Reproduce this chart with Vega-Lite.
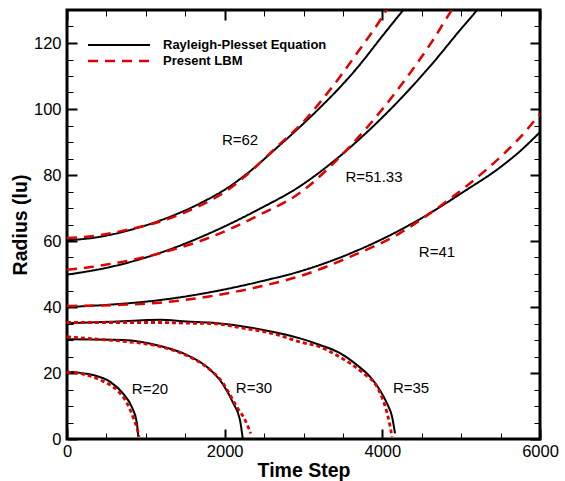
{
  "$schema": "https://vega.github.io/schema/vega-lite/v6.json",
  "width": 473,
  "height": 429,
  "autosize": {"type": "none"},
  "padding": {"left": 67, "top": 10, "right": 25, "bottom": 42},
  "background": "white",
  "config": {
    "font": "Liberation Sans",
    "view": {"stroke": "black", "strokeWidth": 3},
    "axis": {
      "domain": false, "grid": false,
      "labelFont": "Liberation Sans", "labelFontSize": 16.5, "labelColor": "black",
      "tickColor": "black",
      "titleFont": "Liberation Sans", "titleFontSize": 19.5, "titleFontWeight": "bold", "titleColor": "black",
      "labelOverlap": false, "labelFlush": false
    }
  },
  "datasets": {
    "curves": [
      {"c":"g62","m":"Rayleigh-Plesset Equation","p":"grow","t":0,"r":60.2},
      {"c":"g62","m":"Rayleigh-Plesset Equation","p":"grow","t":400,"r":61.2},
      {"c":"g62","m":"Rayleigh-Plesset Equation","p":"grow","t":761,"r":63.1},
      {"c":"g62","m":"Rayleigh-Plesset Equation","p":"grow","t":1180,"r":66.2},
      {"c":"g62","m":"Rayleigh-Plesset Equation","p":"grow","t":1687,"r":71.4},
      {"c":"g62","m":"Rayleigh-Plesset Equation","p":"grow","t":2030,"r":76},
      {"c":"g62","m":"Rayleigh-Plesset Equation","p":"grow","t":2283,"r":80.4},
      {"c":"g62","m":"Rayleigh-Plesset Equation","p":"grow","t":2664,"r":88.3},
      {"c":"g62","m":"Rayleigh-Plesset Equation","p":"grow","t":2956,"r":94.6},
      {"c":"g62","m":"Rayleigh-Plesset Equation","p":"grow","t":3209,"r":100.4},
      {"c":"g62","m":"Rayleigh-Plesset Equation","p":"grow","t":3463,"r":106.6},
      {"c":"g62","m":"Rayleigh-Plesset Equation","p":"grow","t":3717,"r":113.5},
      {"c":"g62","m":"Rayleigh-Plesset Equation","p":"grow","t":3970,"r":121.2},
      {"c":"g62","m":"Rayleigh-Plesset Equation","p":"grow","t":4262,"r":129.9},
      {"c":"g62","m":"Rayleigh-Plesset Equation","p":"grow","t":4320,"r":131.6},
      {"c":"g51","m":"Rayleigh-Plesset Equation","p":"grow","t":0,"r":49.8},
      {"c":"g51","m":"Rayleigh-Plesset Equation","p":"grow","t":545,"r":52.1},
      {"c":"g51","m":"Rayleigh-Plesset Equation","p":"grow","t":1180,"r":56.4},
      {"c":"g51","m":"Rayleigh-Plesset Equation","p":"grow","t":1814,"r":62.4},
      {"c":"g51","m":"Rayleigh-Plesset Equation","p":"grow","t":2448,"r":69.8},
      {"c":"g51","m":"Rayleigh-Plesset Equation","p":"grow","t":2956,"r":76.6},
      {"c":"g51","m":"Rayleigh-Plesset Equation","p":"grow","t":3374,"r":84},
      {"c":"g51","m":"Rayleigh-Plesset Equation","p":"grow","t":3806,"r":93},
      {"c":"g51","m":"Rayleigh-Plesset Equation","p":"grow","t":4224,"r":102.9},
      {"c":"g51","m":"Rayleigh-Plesset Equation","p":"grow","t":4643,"r":114},
      {"c":"g51","m":"Rayleigh-Plesset Equation","p":"grow","t":4985,"r":123.9},
      {"c":"g51","m":"Rayleigh-Plesset Equation","p":"grow","t":5201,"r":130},
      {"c":"g51","m":"Rayleigh-Plesset Equation","p":"grow","t":5250,"r":131.5},
      {"c":"g41","m":"Rayleigh-Plesset Equation","p":"grow","t":0,"r":40},
      {"c":"g41","m":"Rayleigh-Plesset Equation","p":"grow","t":600,"r":40.8},
      {"c":"g41","m":"Rayleigh-Plesset Equation","p":"grow","t":1180,"r":42.1},
      {"c":"g41","m":"Rayleigh-Plesset Equation","p":"grow","t":1800,"r":44.4},
      {"c":"g41","m":"Rayleigh-Plesset Equation","p":"grow","t":2448,"r":47.7},
      {"c":"g41","m":"Rayleigh-Plesset Equation","p":"grow","t":2956,"r":50.8},
      {"c":"g41","m":"Rayleigh-Plesset Equation","p":"grow","t":3590,"r":56.2},
      {"c":"g41","m":"Rayleigh-Plesset Equation","p":"grow","t":4224,"r":63.3},
      {"c":"g41","m":"Rayleigh-Plesset Equation","p":"grow","t":4731,"r":70.3},
      {"c":"g41","m":"Rayleigh-Plesset Equation","p":"grow","t":5023,"r":74.8},
      {"c":"g41","m":"Rayleigh-Plesset Equation","p":"grow","t":5493,"r":82.3},
      {"c":"g41","m":"Rayleigh-Plesset Equation","p":"grow","t":5746,"r":87.2},
      {"c":"g41","m":"Rayleigh-Plesset Equation","p":"grow","t":6000,"r":93},
      {"c":"g62","m":"Present LBM","p":"grow","t":0,"r":60.9},
      {"c":"g62","m":"Present LBM","p":"grow","t":400,"r":61.7},
      {"c":"g62","m":"Present LBM","p":"grow","t":761,"r":63.4},
      {"c":"g62","m":"Present LBM","p":"grow","t":1180,"r":65.9},
      {"c":"g62","m":"Present LBM","p":"grow","t":1687,"r":70.7},
      {"c":"g62","m":"Present LBM","p":"grow","t":2030,"r":75.3},
      {"c":"g62","m":"Present LBM","p":"grow","t":2283,"r":80.1},
      {"c":"g62","m":"Present LBM","p":"grow","t":2664,"r":88.6},
      {"c":"g62","m":"Present LBM","p":"grow","t":2994,"r":96},
      {"c":"g62","m":"Present LBM","p":"grow","t":3209,"r":102},
      {"c":"g62","m":"Present LBM","p":"grow","t":3463,"r":109.8},
      {"c":"g62","m":"Present LBM","p":"grow","t":3717,"r":118.2},
      {"c":"g62","m":"Present LBM","p":"grow","t":3964,"r":126.6},
      {"c":"g62","m":"Present LBM","p":"grow","t":4034,"r":129.3},
      {"c":"g62","m":"Present LBM","p":"grow","t":4090,"r":131.5},
      {"c":"g51","m":"Present LBM","p":"grow","t":0,"r":51.3},
      {"c":"g51","m":"Present LBM","p":"grow","t":300,"r":52.1},
      {"c":"g51","m":"Present LBM","p":"grow","t":545,"r":53},
      {"c":"g51","m":"Present LBM","p":"grow","t":1180,"r":56.3},
      {"c":"g51","m":"Present LBM","p":"grow","t":1814,"r":61.1},
      {"c":"g51","m":"Present LBM","p":"grow","t":2448,"r":68},
      {"c":"g51","m":"Present LBM","p":"grow","t":2956,"r":74.6},
      {"c":"g51","m":"Present LBM","p":"grow","t":3374,"r":83.4},
      {"c":"g51","m":"Present LBM","p":"grow","t":3806,"r":94.4},
      {"c":"g51","m":"Present LBM","p":"grow","t":4224,"r":106.8},
      {"c":"g51","m":"Present LBM","p":"grow","t":4643,"r":120.9},
      {"c":"g51","m":"Present LBM","p":"grow","t":4884,"r":130},
      {"c":"g51","m":"Present LBM","p":"grow","t":4930,"r":131.5},
      {"c":"g41","m":"Present LBM","p":"grow","t":0,"r":40.3},
      {"c":"g41","m":"Present LBM","p":"grow","t":600,"r":40.6},
      {"c":"g41","m":"Present LBM","p":"grow","t":1180,"r":41.3},
      {"c":"g41","m":"Present LBM","p":"grow","t":1800,"r":43.2},
      {"c":"g41","m":"Present LBM","p":"grow","t":2448,"r":46.2},
      {"c":"g41","m":"Present LBM","p":"grow","t":3000,"r":49.7},
      {"c":"g41","m":"Present LBM","p":"grow","t":3590,"r":55.2},
      {"c":"g41","m":"Present LBM","p":"grow","t":4224,"r":62.4},
      {"c":"g41","m":"Present LBM","p":"grow","t":4600,"r":68.3},
      {"c":"g41","m":"Present LBM","p":"grow","t":4858,"r":72.8},
      {"c":"g41","m":"Present LBM","p":"grow","t":5328,"r":81.8},
      {"c":"g41","m":"Present LBM","p":"grow","t":5531,"r":86.2},
      {"c":"g41","m":"Present LBM","p":"grow","t":5709,"r":90.4},
      {"c":"g41","m":"Present LBM","p":"grow","t":6000,"r":98.5},
      {"c":"c35","m":"Rayleigh-Plesset Equation","p":"collapse","t":0,"r":35.1},
      {"c":"c35","m":"Rayleigh-Plesset Equation","p":"collapse","t":545,"r":35.5},
      {"c":"c35","m":"Rayleigh-Plesset Equation","p":"collapse","t":1180,"r":36.1},
      {"c":"c35","m":"Rayleigh-Plesset Equation","p":"collapse","t":1522,"r":35.6},
      {"c":"c35","m":"Rayleigh-Plesset Equation","p":"collapse","t":1814,"r":35.3},
      {"c":"c35","m":"Rayleigh-Plesset Equation","p":"collapse","t":2233,"r":34.1},
      {"c":"c35","m":"Rayleigh-Plesset Equation","p":"collapse","t":2664,"r":32.2},
      {"c":"c35","m":"Rayleigh-Plesset Equation","p":"collapse","t":2956,"r":30.5},
      {"c":"c35","m":"Rayleigh-Plesset Equation","p":"collapse","t":3209,"r":28.5},
      {"c":"c35","m":"Rayleigh-Plesset Equation","p":"collapse","t":3463,"r":26},
      {"c":"c35","m":"Rayleigh-Plesset Equation","p":"collapse","t":3679,"r":22.4},
      {"c":"c35","m":"Rayleigh-Plesset Equation","p":"collapse","t":3843,"r":18.9},
      {"c":"c35","m":"Rayleigh-Plesset Equation","p":"collapse","t":3970,"r":14.8},
      {"c":"c35","m":"Rayleigh-Plesset Equation","p":"collapse","t":4059,"r":10.8},
      {"c":"c35","m":"Rayleigh-Plesset Equation","p":"collapse","t":4123,"r":6.8},
      {"c":"c35","m":"Rayleigh-Plesset Equation","p":"collapse","t":4161,"r":1.7},
      {"c":"c30","m":"Rayleigh-Plesset Equation","p":"collapse","t":0,"r":30.2},
      {"c":"c30","m":"Rayleigh-Plesset Equation","p":"collapse","t":714,"r":30},
      {"c":"c30","m":"Rayleigh-Plesset Equation","p":"collapse","t":1180,"r":28.2},
      {"c":"c30","m":"Rayleigh-Plesset Equation","p":"collapse","t":1518,"r":25.5},
      {"c":"c30","m":"Rayleigh-Plesset Equation","p":"collapse","t":1772,"r":21.9},
      {"c":"c30","m":"Rayleigh-Plesset Equation","p":"collapse","t":1983,"r":16.4},
      {"c":"c30","m":"Rayleigh-Plesset Equation","p":"collapse","t":2110,"r":10.8},
      {"c":"c30","m":"Rayleigh-Plesset Equation","p":"collapse","t":2194,"r":5.8},
      {"c":"c30","m":"Rayleigh-Plesset Equation","p":"collapse","t":2229,"r":0.2},
      {"c":"c20","m":"Rayleigh-Plesset Equation","p":"collapse","t":0,"r":20.4},
      {"c":"c20","m":"Rayleigh-Plesset Equation","p":"collapse","t":330,"r":19.4},
      {"c":"c20","m":"Rayleigh-Plesset Equation","p":"collapse","t":545,"r":17.4},
      {"c":"c20","m":"Rayleigh-Plesset Equation","p":"collapse","t":710,"r":13.8},
      {"c":"c20","m":"Rayleigh-Plesset Equation","p":"collapse","t":820,"r":9.8},
      {"c":"c20","m":"Rayleigh-Plesset Equation","p":"collapse","t":884,"r":5.2},
      {"c":"c20","m":"Rayleigh-Plesset Equation","p":"collapse","t":905,"r":0.7},
      {"c":"c35","m":"Present LBM","p":"collapse","t":0,"r":35.3},
      {"c":"c35","m":"Present LBM","p":"collapse","t":545,"r":35.3},
      {"c":"c35","m":"Present LBM","p":"collapse","t":1180,"r":35.3},
      {"c":"c35","m":"Present LBM","p":"collapse","t":1522,"r":35.1},
      {"c":"c35","m":"Present LBM","p":"collapse","t":1814,"r":35},
      {"c":"c35","m":"Present LBM","p":"collapse","t":2233,"r":33.6},
      {"c":"c35","m":"Present LBM","p":"collapse","t":2664,"r":31.6},
      {"c":"c35","m":"Present LBM","p":"collapse","t":2956,"r":29.4},
      {"c":"c35","m":"Present LBM","p":"collapse","t":3209,"r":27.9},
      {"c":"c35","m":"Present LBM","p":"collapse","t":3463,"r":24.8},
      {"c":"c35","m":"Present LBM","p":"collapse","t":3755,"r":20},
      {"c":"c35","m":"Present LBM","p":"collapse","t":3932,"r":15.8},
      {"c":"c35","m":"Present LBM","p":"collapse","t":4008,"r":11.8},
      {"c":"c35","m":"Present LBM","p":"collapse","t":4072,"r":6.8},
      {"c":"c35","m":"Present LBM","p":"collapse","t":4123,"r":0.7},
      {"c":"c30","m":"Present LBM","p":"collapse","t":0,"r":31},
      {"c":"c30","m":"Present LBM","p":"collapse","t":300,"r":30.4},
      {"c":"c30","m":"Present LBM","p":"collapse","t":714,"r":29.6},
      {"c":"c30","m":"Present LBM","p":"collapse","t":1180,"r":28},
      {"c":"c30","m":"Present LBM","p":"collapse","t":1518,"r":25.3},
      {"c":"c30","m":"Present LBM","p":"collapse","t":1772,"r":21.8},
      {"c":"c30","m":"Present LBM","p":"collapse","t":1983,"r":16.8},
      {"c":"c30","m":"Present LBM","p":"collapse","t":2152,"r":9.8},
      {"c":"c30","m":"Present LBM","p":"collapse","t":2258,"r":5.8},
      {"c":"c30","m":"Present LBM","p":"collapse","t":2330,"r":1.7},
      {"c":"c20","m":"Present LBM","p":"collapse","t":0,"r":20.2},
      {"c":"c20","m":"Present LBM","p":"collapse","t":120,"r":20},
      {"c":"c20","m":"Present LBM","p":"collapse","t":419,"r":17.9},
      {"c":"c20","m":"Present LBM","p":"collapse","t":634,"r":14.8},
      {"c":"c20","m":"Present LBM","p":"collapse","t":761,"r":10.9},
      {"c":"c20","m":"Present LBM","p":"collapse","t":837,"r":6.7},
      {"c":"c20","m":"Present LBM","p":"collapse","t":900,"r":2.1},
      {"c":"c20","m":"Present LBM","p":"collapse","t":913,"r":0.6}
    ],
    "labels": [
      {"label":"R=62","t":2195,"r":90.6},
      {"label":"R=51.33","t":3894,"r":79.4},
      {"label":"R=41","t":4693,"r":56.7},
      {"label":"R=20","t":1053,"r":15.2},
      {"label":"R=30","t":2372,"r":15.5},
      {"label":"R=35","t":4364,"r":15.5}
    ]
  },
  "resolve": {"axis": {"x": "independent", "y": "independent"}},
  "layer": [
    {
      "data": {"name": "curves"},
      "transform": [{"filter": "datum.p === 'grow'"}],
      "mark": {"type": "line", "interpolate": "monotone", "clip": true},
      "encoding": {
        "x": {"field": "t", "type": "quantitative",
          "scale": {"domain": [0, 6000], "nice": false, "zero": false},
          "axis": {"orient": "bottom", "title": "Time Step", "format": "d",
            "values": [0,500,1000,1500,2000,2500,3000,3500,4000,4500,5000,5500,6000],
            "labelExpr": "datum.value % 2000 === 0 ? datum.label : ''",
            "tickSize": {"condition": {"test": "datum.value % 2000 === 0", "value": -10}, "value": -6},
            "tickWidth": {"condition": {"test": "datum.value % 2000 === 0", "value": 2}, "value": 1},
            "labelPadding": 14, "titleBaseline": "alphabetic", "titleY": 37}},
        "y": {"field": "r", "type": "quantitative",
          "scale": {"domain": [0, 130], "nice": false, "zero": false},
          "axis": {"orient": "left", "title": "Radius (lu)", "format": "d",
            "values": [0,5,10,15,20,25,30,35,40,45,50,55,60,65,70,75,80,85,90,95,100,105,110,115,120,125],
            "labelExpr": "datum.value % 20 === 0 ? datum.label : ''",
            "tickSize": {"condition": {"test": "datum.value % 20 === 0", "value": -10}, "value": -6},
            "tickWidth": {"condition": {"test": "datum.value % 20 === 0", "value": 2}, "value": 1},
            "labelPadding": 16, "titlePadding": 3}},
        "detail": {"field": "c"},
        "color": {"field": "m", "type": "nominal",
          "scale": {"domain": ["Rayleigh-Plesset Equation", "Present LBM"], "range": ["black", "#e00000"]},
          "legend": {"title": null, "orient": "none", "legendX": 43, "legendY": 26, "symbolType": "M-4,0L4,0", "symbolSize": 240, "symbolStrokeWidth": 2.5, "labelFont": "Liberation Sans", "labelFontSize": 13, "labelFontWeight": "bold", "labelColor": "black", "labelOffset": 35, "labelLimit": 0, "rowPadding": -2, "padding": 0}},
        "strokeDash": {"field": "m", "type": "nominal",
          "scale": {"domain": ["Rayleigh-Plesset Equation", "Present LBM"], "range": [[1, 0], [10, 7]]},
          "legend": {"title": null, "orient": "none", "legendX": 43, "legendY": 26, "symbolType": "M-4,0L4,0", "symbolSize": 240, "symbolStrokeWidth": 2.5, "labelFont": "Liberation Sans", "labelFontSize": 13, "labelFontWeight": "bold", "labelColor": "black", "labelOffset": 35, "labelLimit": 0, "rowPadding": -2, "padding": 0}},
        "strokeWidth": {"field": "m", "type": "nominal",
          "scale": {"domain": ["Rayleigh-Plesset Equation", "Present LBM"], "range": [2, 2.5]},
          "legend": null}
      }
    },
    {
      "data": {"name": "curves"},
      "transform": [{"filter": "datum.p === 'collapse' && datum.m === 'Rayleigh-Plesset Equation'"}],
      "mark": {"type": "line", "interpolate": "monotone", "strokeWidth": 2},
      "encoding": {
        "x": {"field": "t", "type": "quantitative",
          "scale": {"domain": [0, 6000], "nice": false, "zero": false},
          "axis": {"orient": "top", "title": null, "labels": false,
            "values": [0,500,1000,1500,2000,2500,3000,3500,4000,4500,5000,5500,6000],
            "tickSize": {"condition": {"test": "datum.value % 2000 === 0", "value": -10}, "value": -6},
            "tickWidth": {"condition": {"test": "datum.value % 2000 === 0", "value": 2}, "value": 1}}},
        "y": {"field": "r", "type": "quantitative",
          "scale": {"domain": [0, 130], "nice": false, "zero": false},
          "axis": {"orient": "right", "title": null, "labels": false,
            "values": [0,5,10,15,20,25,30,35,40,45,50,55,60,65,70,75,80,85,90,95,100,105,110,115,120,125],
            "tickSize": {"condition": {"test": "datum.value % 20 === 0", "value": -10}, "value": -6},
            "tickWidth": {"condition": {"test": "datum.value % 20 === 0", "value": 2}, "value": 1}}},
        "detail": {"field": "c"},
        "color": {"field": "m", "type": "nominal",
          "scale": {"domain": ["Rayleigh-Plesset Equation", "Present LBM"], "range": ["black", "#e00000"]}}
      }
    },
    {
      "data": {"name": "curves"},
      "transform": [{"filter": "datum.p === 'collapse' && datum.m === 'Present LBM'"}],
      "mark": {"type": "line", "interpolate": "monotone", "strokeWidth": 2.8, "strokeDash": [4, 3]},
      "encoding": {
        "x": {"field": "t", "type": "quantitative", "axis": null},
        "y": {"field": "r", "type": "quantitative", "axis": null},
        "detail": {"field": "c"},
        "color": {"field": "m", "type": "nominal",
          "scale": {"domain": ["Rayleigh-Plesset Equation", "Present LBM"], "range": ["black", "#e00000"]}}
      }
    },
    {
      "data": {"name": "labels"},
      "mark": {"type": "text", "font": "Liberation Sans", "fontSize": 15, "color": "black"},
      "encoding": {
        "x": {"field": "t", "type": "quantitative", "axis": null},
        "y": {"field": "r", "type": "quantitative", "axis": null},
        "text": {"field": "label"}
      }
    }
  ]
}
